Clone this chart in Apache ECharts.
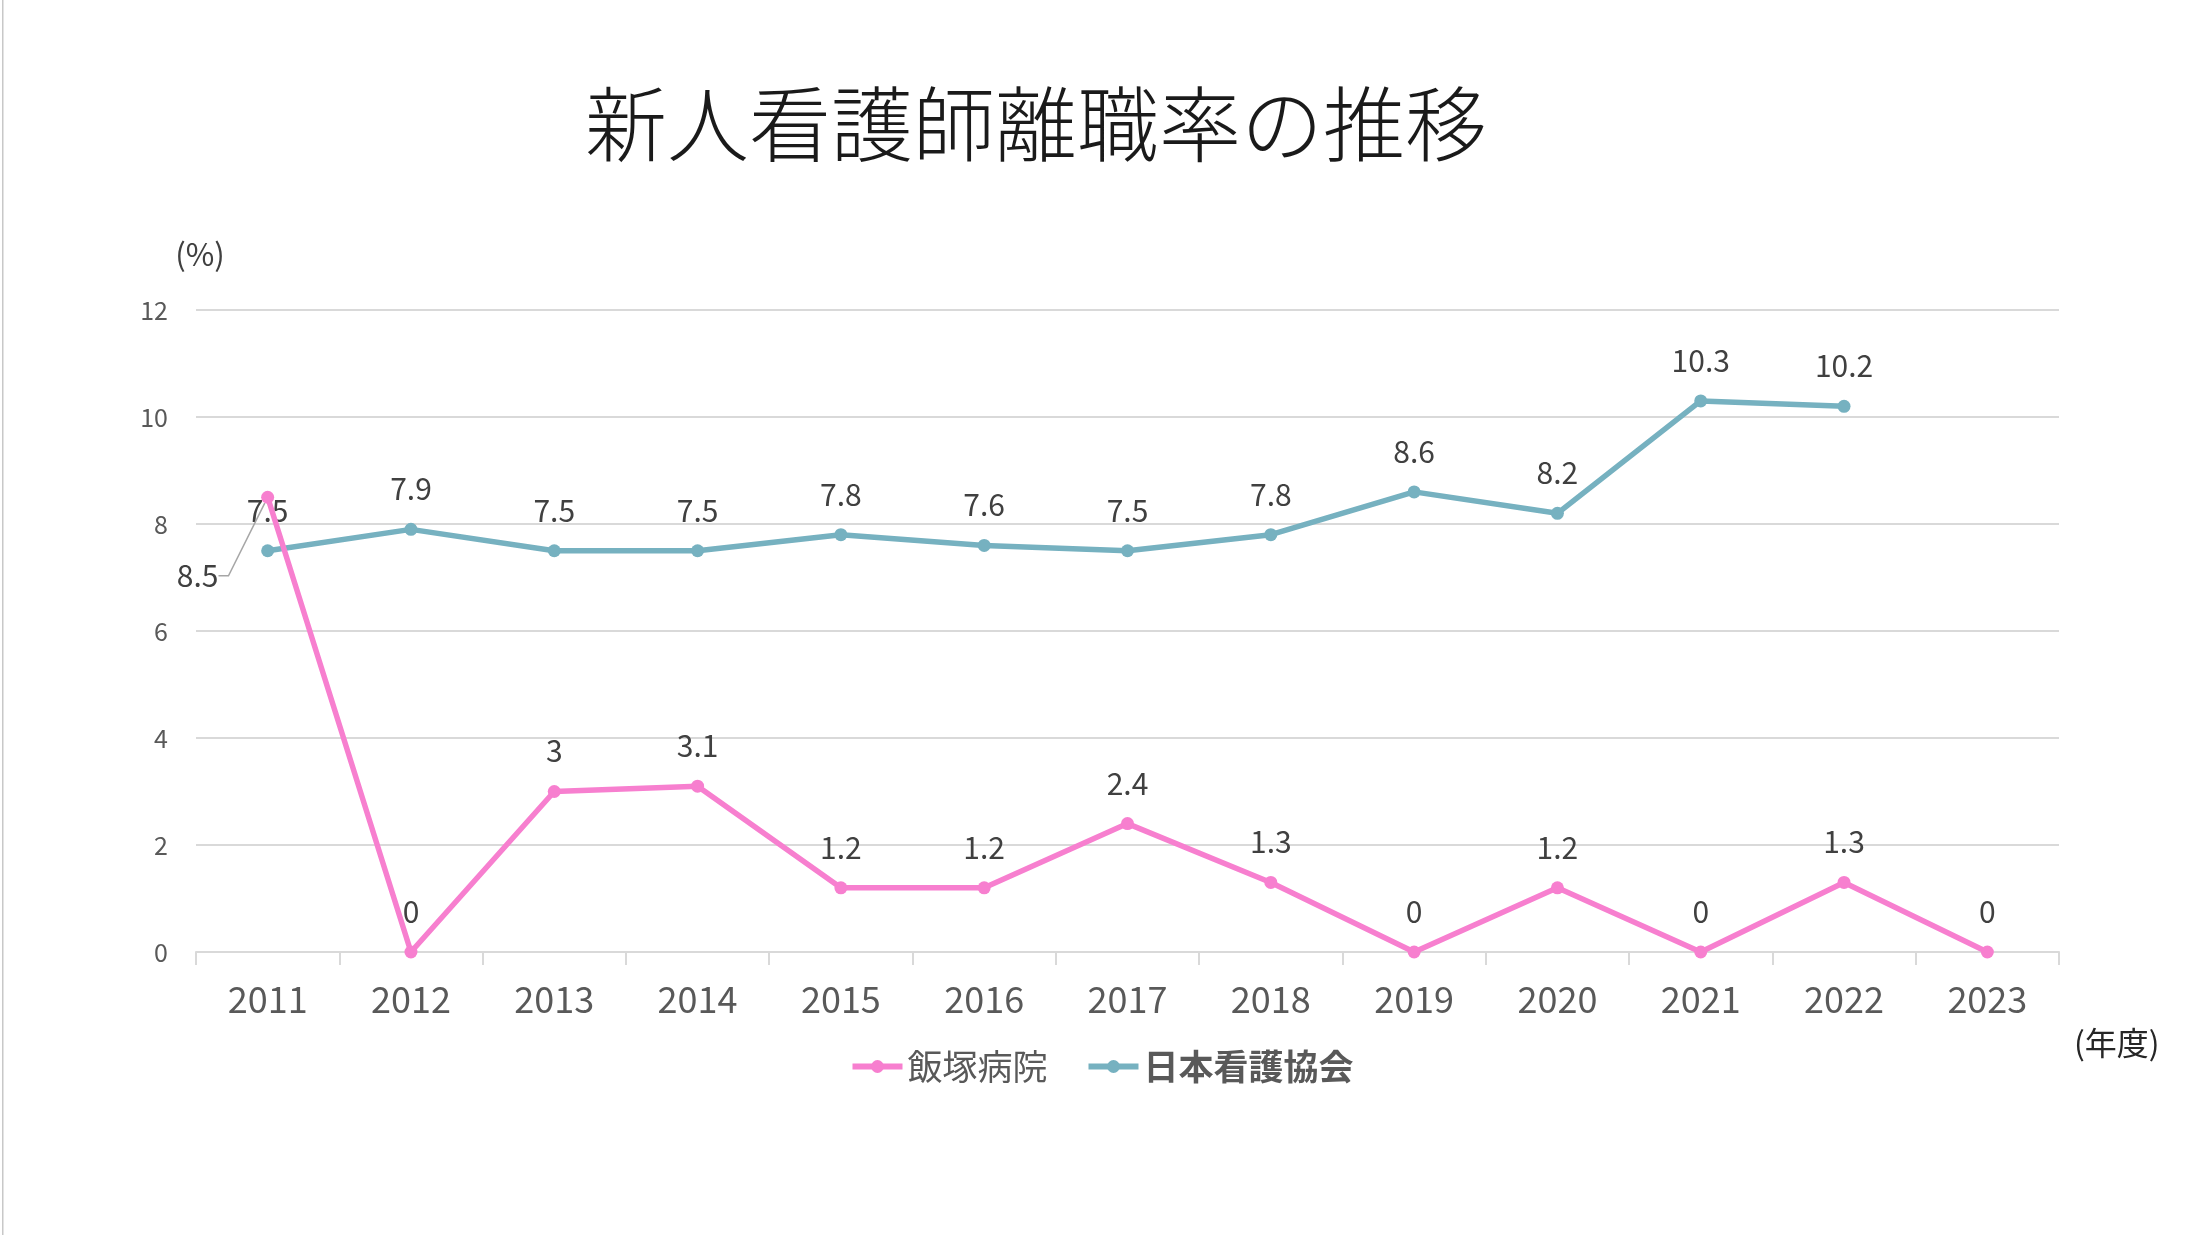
<!DOCTYPE html>
<html>
<head>
<meta charset="utf-8">
<script src="https://cdn.jsdelivr.net/npm/echarts@6/dist/echarts.min.js"></script>
<style>
html,body{margin:0;padding:0;background:#fff;}
#main{width:2203px;height:1235px;}
</style>
</head>
<body>
<div id="main"></div>
<script>
const categories = ['2011','2012','2013','2014','2015','2016','2017','2018','2019','2020','2021','2022','2023'];
const iizukaValues = [8.5, 0, 3, 3.1, 1.2, 1.2, 2.4, 1.3, 0, 1.2, 0, 1.3, 0];
const nursingAssocValues = [7.5, 7.9, 7.5, 7.5, 7.8, 7.6, 7.5, 7.8, 8.6, 8.2, 10.3, 10.2, null];
const yTicks = {min: 0, max: 12, interval: 2};
const seriesNames = ['飯塚病院', '日本看護協会'];

const FONT = "'Noto Sans CJK JP', 'Noto Sans', sans-serif";
const PINK = '#f77fcf';
const TEAL = '#76b1c0';

const chart = echarts.init(document.getElementById('main'));

const pinkData = iizukaValues.map((v, i) => i === 0 ? {value: v, labelLine: {show: true}} : v);

chart.setOption({
  backgroundColor: '#ffffff',
  textStyle: {fontFamily: FONT},
  title: {
    text: '新人看護師離職率の推移',
    left: 580,
    top: 78,
    textStyle: {fontFamily: "'Noto Sans CJK JP Light', " + FONT, fontWeight: 300, fontSize: 82, color: '#1a1a1a'}
  },
  legend: {
    data: seriesNames,
    left: 'center',
    top: 1044,
    itemWidth: 50,
    itemHeight: 16,
    itemGap: 38,
    lineStyle: {width: 6},
    formatter: name => name === '日本看護協会' ? '{b|' + name + '}' : '{n|' + name + '}',
    textStyle: {
      color: '#595959',
      fontSize: 35,
      rich: {
        n: {fontSize: 35, color: '#595959', fontFamily: FONT, fontWeight: 'normal'},
        b: {fontSize: 35, color: '#595959', fontFamily: FONT, fontWeight: 'bold'}
      }
    }
  },
  grid: {left: 196, right: 144, top: 310, bottom: 283, containLabel: false},
  xAxis: {
    type: 'category',
    data: categories,
    boundaryGap: true,
    axisLine: {show: true, lineStyle: {color: '#d9d9d9', width: 2}},
    axisTick: {show: true, length: 13, lineStyle: {color: '#d9d9d9', width: 2}},
    axisLabel: {color: '#595959', fontSize: 36, margin: 29, fontFamily: FONT}
  },
  yAxis: {
    type: 'value',
    min: yTicks.min,
    max: yTicks.max,
    interval: yTicks.interval,
    name: '(%)',
    nameLocation: 'end',
    nameGap: 40,
    nameTextStyle: {color: '#404040', fontSize: 31, fontFamily: FONT, padding: [0, 0, 0, 8]},
    axisLine: {show: false},
    axisTick: {show: false},
    axisLabel: {color: '#595959', fontSize: 25, margin: 28, fontFamily: FONT},
    splitLine: {show: true, lineStyle: {color: '#d9d9d9', width: 2}}
  },
  graphic: [
    {type: 'rect', shape: {x: 2, y: 0, width: 1.5, height: 1235}, style: {fill: '#c8c8c8'}, silent: true},
    {type: 'text', left: 2074, top: 1027, style: {text: '(年度)', fontSize: 32, fill: '#262626', fontFamily: FONT}}
  ],
  series: [
    {
      name: seriesNames[1],
      type: 'line',
      data: nursingAssocValues,
      symbol: 'circle',
      symbolSize: 13,
      lineStyle: {color: TEAL, width: 5.5},
      itemStyle: {color: TEAL},
      z: 2,
      label: {show: true, position: 'top', distance: 19, color: '#404040', fontSize: 30, fontFamily: FONT}
    },
    {
      name: seriesNames[0],
      type: 'line',
      data: pinkData,
      symbol: 'circle',
      symbolSize: 13,
      lineStyle: {color: PINK, width: 5.5},
      itemStyle: {color: PINK},
      z: 3,
      label: {show: true, position: 'top', distance: 19, color: '#404040', fontSize: 30, fontFamily: FONT},
      labelLine: {show: false, lineStyle: {color: '#a6a6a6', width: 1.5}, length2: 10},
      labelLayout: function (params) {
        if (params.dataIndex === 0) {
          return {dx: -70, dy: 119};
        }
        return {};
      }
    }
  ]
});
</script>
</body>
</html>
